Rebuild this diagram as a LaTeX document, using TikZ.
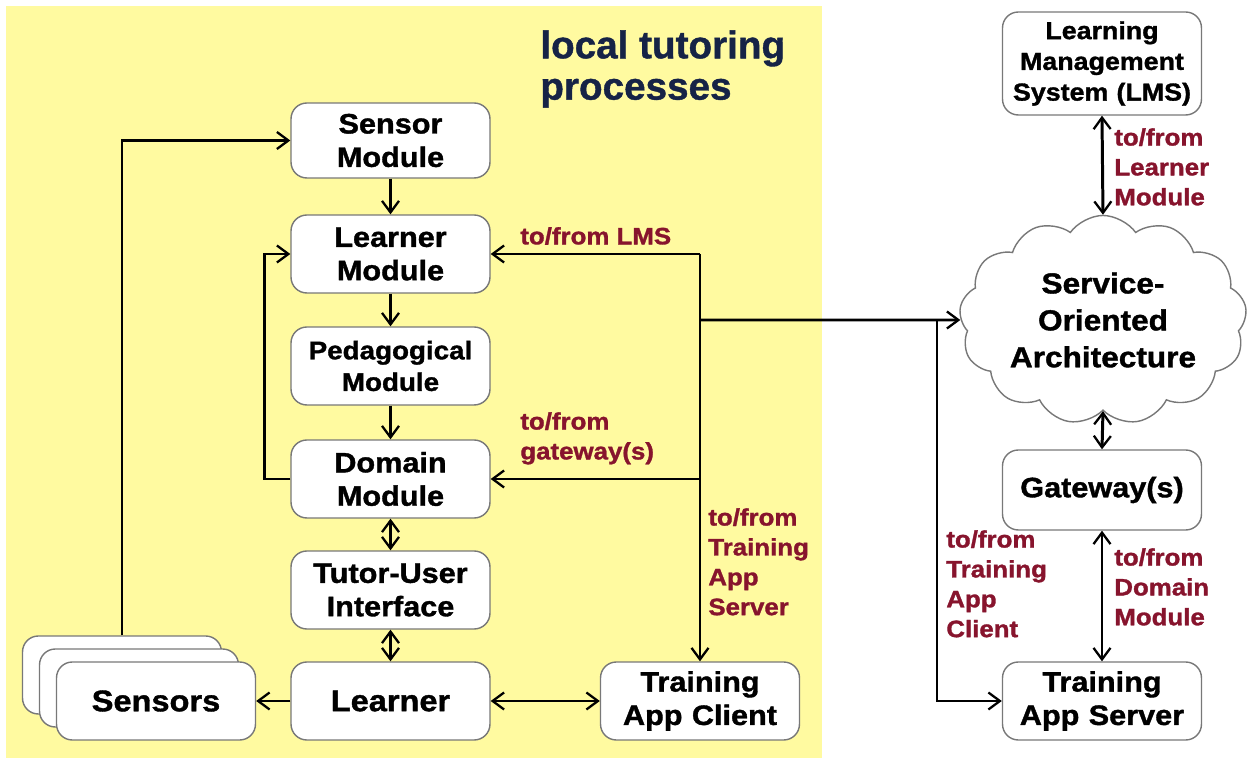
\documentclass[tikz,border=0pt]{standalone}
\usepackage{fontspec}
\setmainfont{Liberation Sans}
\newfontfamily\hv{Liberation Sans}[BoldFeatures={FakeBold=1.3,FakeStretch=1.09}]
\newfontfamily\hvt{Liberation Sans}[BoldFeatures={FakeBold=1.0}]
\usetikzlibrary{arrows.meta,shapes.symbols}
\definecolor{bgyellow}{RGB}{255,250,160}
\definecolor{lblred}{RGB}{135,20,45}
\definecolor{titleblue}{RGB}{22,35,70}
\definecolor{boxline}{RGB}{120,120,120}
\tikzset{
  box/.style={draw=boxline, line width=0.8pt, fill=white, rounded corners=9pt, align=center,
    font=\hv\fontsize{16}{19}\selectfont\bfseries, text width=3.8cm, minimum width=3.98cm, minimum height=1.56cm, inner sep=1pt},
  tip/.tip={Straight Barb[length=2.3mm,width=3.4mm,line width=1.3pt]},
  arr/.style={line width=1.7pt, -tip},
  darr/.style={line width=1.7pt, tip-tip},
  lbl/.style={text=lblred, font=\hv\fontsize{13.5}{17}\selectfont\bfseries, align=left, inner sep=0pt},
}
\begin{document}
\begin{tikzpicture}[x=0.02cm,y=-0.02cm]
\useasboundingbox (0,0) rectangle (1249,763);
\fill[white] (0,0) rectangle (1249,763);
\fill[bgyellow] (6,6) rectangle (822,758);

\node[titleblue, font=\hvt\fontsize{22}{23.5}\selectfont\bfseries, align=left, anchor=north west, inner sep=0pt] (title) at (540,30) {local tutoring\\processes};

% left column
\node[box, minimum height=1.5cm] (sensor) at (390.5,140.5) {Sensor\\Module};
\node[box] (lmod) at (390.5,254) {Learner\\Module};
\node[box, font=\hv\fontsize{14.5}{18}\selectfont\bfseries] (ped) at (390.5,366) {Pedagogical\\Module};
\node[box] (dom) at (390.5,479) {Domain\\Module};
\node[box] (tui) at (390.5,590) {Tutor-User\\Interface};
\node[box, font=\hv\fontsize{17}{19}\selectfont\bfseries] (learner) at (390.5,701) {Learner};

\node[box] (sb) at (122,675) {};
\node[box] (sm) at (139,688) {};
\node[box, font=\hv\fontsize{17}{19}\selectfont\bfseries] (sensors) at (156,701) {Sensors};

\node[box] (tac) at (700,701) {Training\\App Client};

% right column
\node[box, minimum height=2.06cm, font=\hv\fontsize{14}{17.5}\selectfont\bfseries] (lms) at (1102,63.5) {Learning\\Management\\System (LMS)};
\node[cloud, cloud puffs=13, cloud puff arc=110, aspect=1.45, draw=boxline, line width=0.8pt, fill=white,
  minimum width=5.75cm, minimum height=4.0cm, align=center, font=\hv\fontsize{16.5}{21}\selectfont\bfseries, inner sep=0pt] (cloud) at (1103,320) {Service-\\Oriented\\Architecture};
\node[box, minimum height=1.6cm] (gw) at (1102,490) {Gateway(s)};
\node[box] (tas) at (1102,701) {Training\\App Server};

% left arrows
\draw[arr] (sensor) -- (lmod);
\draw[arr] (lmod) -- (ped);
\draw[arr] (ped) -- (dom);
\draw[darr] (dom) -- (tui);
\draw[darr] (tui) -- (learner);
\draw[arr] (learner) -- (sensors);
\draw[darr] (learner) -- (tac);
\draw[arr] (sb.north) |- (sensor.west);
\draw[arr] (dom.west) -- ++(-26,0) |- (lmod.west);

\coordinate (j1) at (700,254);
\coordinate (j2) at (700,320);
\coordinate (j3) at (937,320);
\draw[arr] (j1) -- (tac.north);
\draw[arr] (j1) -- (lmod.east);
\draw[arr] (j1 |- dom) -- (dom.east);
\draw[arr] (j2) -- (cloud.west);
\draw[arr] (j3) |- (tas.west);

% right arrows
\draw[darr] (lms.south) -- (cloud.north);
\draw[darr] (cloud.south) -- (gw.north);
\draw[darr] (gw.south) -- (tas.north);

% labels
\node[lbl, anchor=west] (l1) at (520,236) {to/from LMS};
\node[lbl, anchor=north west] (l2) at (520,412) {to/from\\gateway(s)};
\node[lbl, anchor=north west] (l3) at (708,508) {to/from\\Training\\App\\Server};
\node[lbl, anchor=north west] (l4) at (1114,128) {to/from\\Learner\\Module};
\node[lbl, anchor=north west] (l5) at (946,530) {to/from\\Training\\App\\Client};
\node[lbl, anchor=north west] (l6) at (1114,548) {to/from\\Domain\\Module};
\end{tikzpicture}
\end{document}
